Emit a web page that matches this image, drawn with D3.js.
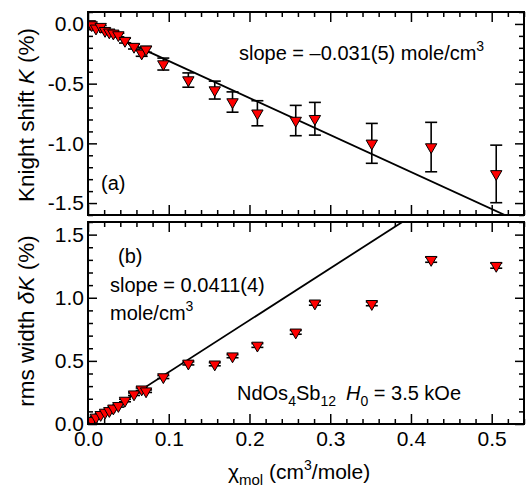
<!DOCTYPE html>
<html><head><meta charset="utf-8">
<script src="https://cdn.jsdelivr.net/npm/d3@7"></script>
<style>
body{margin:0;background:#fff;}
svg{display:block;font-family:"Liberation Sans",Arial,Helvetica,sans-serif;}
</style></head>
<body><svg id="c" width="527" height="489"></svg>
<script>
// susceptibility chi_mol (cm^3/mole)
const chi = [0.0025,0.0046,0.0099,0.0157,0.0211,0.0264,0.0314,0.0376,0.0458,0.057,0.0665,0.0719,0.0933,0.1243,0.157,0.179,0.2098,0.2573,0.281,0.3515,0.425,0.5056];
// Knight shift K (%)
const knight = [0,-0.009,-0.037,-0.023,-0.057,-0.07,-0.079,-0.093,-0.14,-0.19,-0.246,-0.213,-0.336,-0.47,-0.554,-0.654,-0.748,-0.809,-0.794,-1.0,-1.031,-1.256];
const knightErr = [0.01,0.01,0.01,0.01,0.012,0.012,0.015,0.015,0.02,0.02,0.025,0.025,0.05,0.06,0.075,0.085,0.105,0.127,0.137,0.167,0.207,0.241];
// rms width dK (%)
const width = [0.01,0.026,0.052,0.073,0.091,0.104,0.124,0.144,0.186,0.236,0.275,0.26,0.372,0.48,0.473,0.537,0.622,0.726,0.956,0.952,1.301,1.254];
const widthErr = [0.01,0.01,0.01,0.01,0.01,0.01,0.01,0.01,0.01,0.01,0.01,0.01,0.012,0.012,0.012,0.012,0.015,0.015,0.015,0.015,0.02,0.02];
const slopeK = -3.1, slopeW = 4.11;
const xMajor = [0,0.1,0.2,0.3,0.4,0.5];
const yMajorTop = [0,-0.5,-1.0,-1.5];
const yMajorBot = [0,0.5,1.0,1.5];

const svg = d3.select("#c");
const L = 88, R = 524;
const x = d3.scaleLinear().domain([0,0.54]).range([L,R]);
const yT = d3.scaleLinear().domain([-1.6,0.1]).range([215,12]);
const yB = d3.scaleLinear().domain([0,1.6]).range([424,222]);
const xMinor = d3.range(0,0.541,0.02).filter(v=>Math.abs(v*10-Math.round(v*10))>1e-6);
const fmt = d => d.toFixed(1);

function panel(y, majors, minorDom, bottomLabels, id){
  const [y0,y1] = y.range();
  const yMinor = d3.range(Math.round(minorDom[0]*10), Math.round(minorDom[1]*10)+1).map(v=>v/10).filter(v=>!majors.some(m=>Math.abs(m-v)<1e-6));
  const g = svg.append("g");
  const axes = [
    [d3.axisBottom(x).tickValues(xMajor).tickSize(-10).tickFormat(bottomLabels?fmt:""), `translate(0,${y0})`],
    [d3.axisBottom(x).tickValues(xMinor).tickSize(-5).tickFormat(""), `translate(0,${y0})`],
    [d3.axisTop(x).tickValues(xMajor).tickSize(-10).tickFormat(""), `translate(0,${y1})`],
    [d3.axisTop(x).tickValues(xMinor).tickSize(-5).tickFormat(""), `translate(0,${y1})`],
    [d3.axisLeft(y).tickValues(majors).tickSize(-9).tickFormat(fmt), `translate(${L},0)`],
    [d3.axisLeft(y).tickValues(yMinor).tickSize(-5).tickFormat(""), `translate(${L},0)`],
    [d3.axisRight(y).tickValues(majors).tickSize(-9).tickFormat(""), `translate(${R},0)`],
    [d3.axisRight(y).tickValues(yMinor).tickSize(-5).tickFormat(""), `translate(${R},0)`]
  ];
  axes.forEach(([ax,tr])=>{
    const a = g.append("g").attr("transform",tr).call(ax);
    a.select(".domain").remove();
    a.selectAll("line").attr("stroke","#000").attr("stroke-width",1.5);
    a.selectAll("text").attr("font-size",21).attr("fill","#000").attr("font-family","'Liberation Sans',Arial,sans-serif");
  });
  g.selectAll(".tick text").filter(function(){return this.parentNode.parentNode.getAttribute("transform")===`translate(${L},0)`;}).attr("x",-4);
  svg.append("clipPath").attr("id",id).append("rect").attr("x",L).attr("y",y1).attr("width",R-L).attr("height",y0-y1);
  return g;
}

const gT = panel(yT, yMajorTop, [-1.6,0.1], false, "clipT");
const gB = panel(yB, yMajorBot, [0,1.6], true, "clipB");
gB.selectAll("g").filter(function(){return this.getAttribute("transform")==="translate(0,424)";}).selectAll("text").attr("dy","0.71em").attr("y",7);

// fit lines
svg.append("line").attr("clip-path","url(#clipT)")
  .attr("x1",x(0)).attr("y1",yT(0)).attr("x2",x(0.54)).attr("y2",yT(slopeK*0.54))
  .attr("stroke","#000").attr("stroke-width",1.8);
svg.append("line").attr("clip-path","url(#clipB)")
  .attr("x1",x(0)).attr("y1",yB(0)).attr("x2",x(0.54)).attr("y2",yB(slopeW*0.54))
  .attr("stroke","#000").attr("stroke-width",1.8);

function points(y, vals, errs, clip){
  const data = chi.map((c,i)=>({c, v:vals[i], e:errs[i]}));
  const g = svg.append("g").attr("clip-path",`url(#${clip})`);
  const eb = g.selectAll("g.eb").data(data).join("g").attr("stroke","#000").attr("stroke-width",1.6);
  eb.append("line").attr("x1",d=>x(d.c)).attr("x2",d=>x(d.c)).attr("y1",d=>y(d.v-d.e)).attr("y2",d=>y(d.v+d.e));
  eb.append("line").attr("x1",d=>x(d.c)-6).attr("x2",d=>x(d.c)+6).attr("y1",d=>y(d.v-d.e)).attr("y2",d=>y(d.v-d.e));
  eb.append("line").attr("x1",d=>x(d.c)-6).attr("x2",d=>x(d.c)+6).attr("y1",d=>y(d.v+d.e)).attr("y2",d=>y(d.v+d.e));
  const tri = d3.symbol().type(d3.symbolTriangle).size(56);
  g.selectAll("path.m").data(data).join("path")
    .attr("d",tri).attr("transform",d=>`translate(${x(d.c)},${y(d.v)}) rotate(180)`)
    .attr("fill","#ff0000").attr("stroke","#000").attr("stroke-width",1);
}
points(yT, knight, knightErr, "clipT");
points(yB, width, widthErr, "clipB");

// frames
[[yT],[yB]].forEach(([y])=>{
  const [y0,y1]=y.range();
  svg.append("rect").attr("x",L).attr("y",y1).attr("width",R-L).attr("height",y0-y1)
    .attr("fill","none").attr("stroke","#000").attr("stroke-width",2);
});

// annotations
const T = (xx,yy,fs)=>svg.append("text").attr("x",xx).attr("y",yy).attr("font-size",fs).attr("fill","#000");
let t = T(239,60,20); t.append("tspan").text("slope = \u20130.031(5) mole/cm"); t.append("tspan").attr("dy",-9).attr("font-size",14).text("3");
T(101,190,20).text("(a)");
T(118,263,20).text("(b)");
T(110,292,20).text("slope = 0.0411(4)");
t = T(110,320,20); t.append("tspan").text("mole/cm"); t.append("tspan").attr("dy",-9).attr("font-size",14).text("3");
t = T(237,400,20);
t.append("tspan").text("NdOs");
t.append("tspan").attr("dy",6).attr("font-size",14).text("4");
t.append("tspan").attr("dy",-6).text("Sb");
t.append("tspan").attr("dy",6).attr("font-size",14).text("12");
t.append("tspan").attr("dy",-6).attr("dx",10).attr("font-style","italic").text("H");
t.append("tspan").attr("dy",6).attr("font-size",14).text("0");
t.append("tspan").attr("dy",-6).text(" = 3.5 kOe");

// axis titles
t = svg.append("text").attr("transform","translate(34,115) rotate(-90)").attr("text-anchor","middle").attr("font-size",22.5);
t.append("tspan").text("Knight shift ");
t.append("tspan").attr("font-style","italic").text("K");
t.append("tspan").text(" (%)");
t = svg.append("text").attr("transform","translate(34,321) rotate(-90)").attr("text-anchor","middle").attr("font-size",22.5);
t.append("tspan").text("rms width ");
t.append("tspan").attr("font-style","italic").text("\u03B4K");
t.append("tspan").text(" (%)");
t = svg.append("text").attr("x",228).attr("y",479).attr("font-size",21);
t.append("tspan").text("\u03C7");
t.append("tspan").attr("dy",6).attr("font-size",15).text("mol");
t.append("tspan").attr("dy",-6).text(" (cm");
t.append("tspan").attr("dy",-9).attr("font-size",14).text("3");
t.append("tspan").attr("dy",9).text("/mole)");
</script></body></html>
